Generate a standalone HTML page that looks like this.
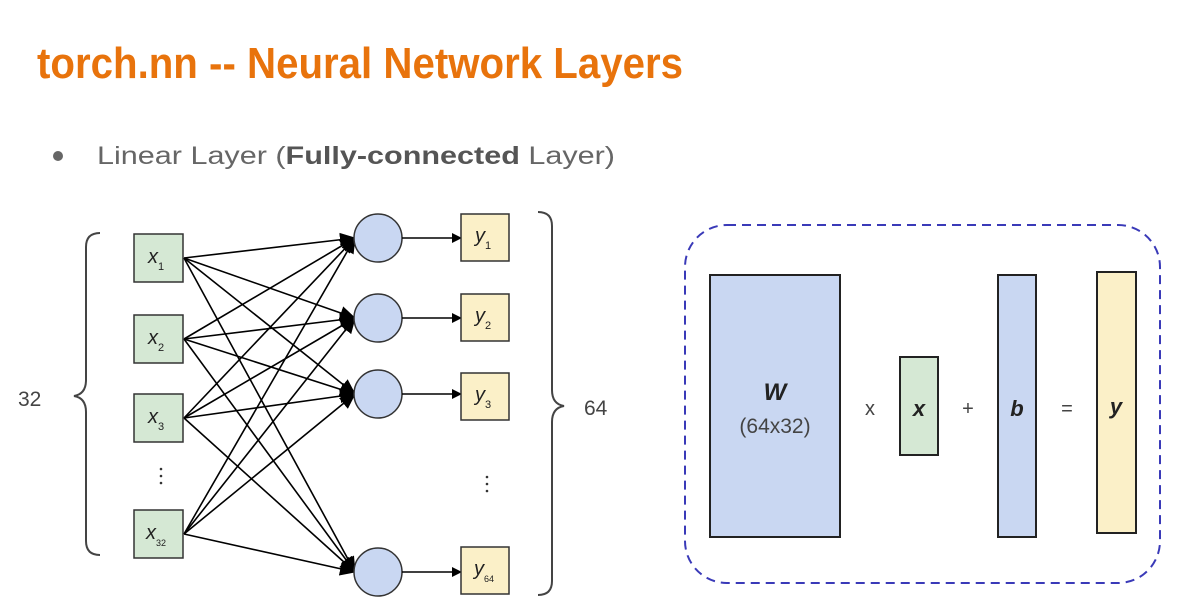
<!DOCTYPE html>
<html><head><style>
body{margin:0;width:1177px;height:604px;background:#fff;overflow:hidden;font-family:"Liberation Sans",sans-serif}
</style></head><body>
<svg width="1177" height="604" xmlns="http://www.w3.org/2000/svg" font-family="Liberation Sans, sans-serif">
<defs><marker id="a" markerWidth="10" markerHeight="10" refX="9" refY="5" orient="auto" markerUnits="userSpaceOnUse"><path d="M0,0 L10,5 L0,10 z" fill="#000"/></marker>
<marker id="b" markerWidth="16" markerHeight="14" refX="15" refY="7" orient="auto" markerUnits="userSpaceOnUse"><path d="M0,0 L16,7 L0,14 z" fill="#000"/></marker></defs>
<text x="37" y="78" font-size="44" font-weight="bold" fill="#e8730c" textLength="646" lengthAdjust="spacingAndGlyphs">torch.nn -- Neural Network Layers</text>
<circle cx="58" cy="156" r="5" fill="#666"/>
<text x="97" y="164" font-size="25" fill="#666" textLength="518" lengthAdjust="spacingAndGlyphs">Linear Layer (<tspan font-weight="bold" fill="#555">Fully-connected</tspan> Layer)</text>
<path d="M100,233 Q86,233 86,247 L86,380 Q86,394 74,396 Q86,398 86,412 L86,541 Q86,555 100,555" fill="none" stroke="#444" stroke-width="2"/>
<path d="M538,212 Q552,212 552,226 L552,390 Q552,404 564,406 Q552,408 552,422 L552,581 Q552,595 538,595" fill="none" stroke="#444" stroke-width="2"/>
<text x="18" y="406" font-size="21" fill="#444">32</text>
<text x="584" y="415" font-size="21" fill="#444">64</text>
<g stroke="#000" stroke-width="1.6" marker-end="url(#b)">
<line x1="184" y1="258" x2="355" y2="238"/><line x1="184" y1="258" x2="355" y2="318"/><line x1="184" y1="258" x2="355" y2="394"/><line x1="184" y1="258" x2="355" y2="572"/>
<line x1="184" y1="339" x2="355" y2="238"/><line x1="184" y1="339" x2="355" y2="318"/><line x1="184" y1="339" x2="355" y2="394"/><line x1="184" y1="339" x2="355" y2="572"/>
<line x1="184" y1="418" x2="355" y2="238"/><line x1="184" y1="418" x2="355" y2="318"/><line x1="184" y1="418" x2="355" y2="394"/><line x1="184" y1="418" x2="355" y2="572"/>
<line x1="184" y1="534" x2="355" y2="238"/><line x1="184" y1="534" x2="355" y2="318"/><line x1="184" y1="534" x2="355" y2="394"/><line x1="184" y1="534" x2="355" y2="572"/>
</g>
<g fill="#d5e8d4" stroke="#333" stroke-width="1.5">
<rect x="134" y="234" width="49" height="48"/><rect x="134" y="315" width="49" height="48"/><rect x="134" y="394" width="49" height="48"/><rect x="134" y="510" width="49" height="48"/>
</g>
<g fill="#c9d7f2" stroke="#333" stroke-width="1.5">
<circle cx="378" cy="238" r="24"/><circle cx="378" cy="318" r="24"/><circle cx="378" cy="394" r="24"/><circle cx="378" cy="572" r="24"/>
</g>
<g stroke="#000" stroke-width="1.6" marker-end="url(#a)">
<line x1="402" y1="238" x2="461" y2="238"/><line x1="402" y1="318" x2="461" y2="318"/><line x1="402" y1="394" x2="461" y2="394"/><line x1="402" y1="572" x2="461" y2="572"/>
</g>
<g fill="#fbf0c8" stroke="#333" stroke-width="1.5">
<rect x="461" y="214" width="48" height="47"/><rect x="461" y="294" width="48" height="47"/><rect x="461" y="373" width="48" height="47"/><rect x="461" y="547" width="48" height="47"/>
</g>
<g font-size="20" font-style="italic" fill="#222">
<text x="148" y="263">x<tspan font-size="11" font-style="normal" dy="7">1</tspan></text>
<text x="148" y="344">x<tspan font-size="11" font-style="normal" dy="7">2</tspan></text>
<text x="148" y="423">x<tspan font-size="11" font-style="normal" dy="7">3</tspan></text>
<text x="146" y="539">x<tspan font-size="9" font-style="normal" dy="7">32</tspan></text>
<text x="475" y="242">y<tspan font-size="11" font-style="normal" dy="7">1</tspan></text>
<text x="475" y="322">y<tspan font-size="11" font-style="normal" dy="7">2</tspan></text>
<text x="475" y="401">y<tspan font-size="11" font-style="normal" dy="7">3</tspan></text>
<text x="474" y="575">y<tspan font-size="9" font-style="normal" dy="7">64</tspan></text>
</g>
<g fill="#333"><circle cx="161" cy="469" r="1.3"/><circle cx="161" cy="476" r="1.3"/><circle cx="161" cy="483" r="1.3"/>
<circle cx="487" cy="477" r="1.3"/><circle cx="487" cy="484" r="1.3"/><circle cx="487" cy="491" r="1.3"/></g>
<rect x="685" y="225" width="475" height="358" rx="42" fill="none" stroke="#3a3ab8" stroke-width="2" stroke-dasharray="9,6"/>
<rect x="710" y="275" width="130" height="262" fill="#c9d7f2" stroke="#222" stroke-width="2"/>
<rect x="900" y="357" width="38" height="98" fill="#d5e8d4" stroke="#222" stroke-width="2"/>
<rect x="998" y="275" width="38" height="262" fill="#c9d7f2" stroke="#222" stroke-width="2"/>
<rect x="1097" y="272" width="39" height="261" fill="#fbf0c8" stroke="#222" stroke-width="2"/>
<text x="775" y="400" font-size="24" font-weight="bold" font-style="italic" text-anchor="middle" fill="#222">W</text>
<text x="775" y="433" font-size="21" text-anchor="middle" fill="#444">(64x32)</text>
<text x="870" y="415" font-size="20" text-anchor="middle" fill="#444">x</text>
<text x="919" y="416" font-size="22" font-weight="bold" font-style="italic" text-anchor="middle" fill="#222">x</text>
<text x="968" y="415" font-size="20" text-anchor="middle" fill="#444">+</text>
<text x="1017" y="416" font-size="22" font-weight="bold" font-style="italic" text-anchor="middle" fill="#222">b</text>
<text x="1067" y="415" font-size="20" text-anchor="middle" fill="#444">=</text>
<text x="1116" y="414" font-size="22" font-weight="bold" font-style="italic" text-anchor="middle" fill="#222">y</text>
</svg>
</body></html>
